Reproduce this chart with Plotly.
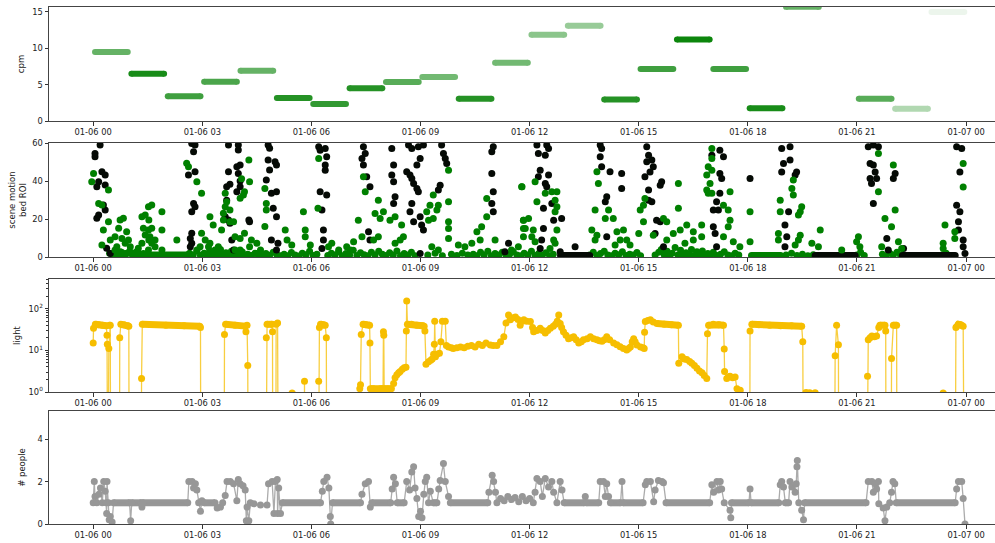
import pandas as pd
import plotly.graph_objects as go

BASE = pd.Timestamp("2020-01-06")

# ---------------- panel 1: cpm per hour ----------------
cpm_hours = list(range(24))
cpm_values = [9.5, 6.5, 3.4, 5.4, 6.9, 3.15, 2.35, 4.5, 5.35, 6.05, 3.05, 8.0,
              11.85, 13.1, 2.95, 7.15, 11.2, 7.15, 1.75, 15.7, None, 3.05, 1.7, 15.0]
cpm_alpha = [0.6, 0.9, 0.75, 0.7, 0.6, 0.85, 0.8, 0.85, 0.65, 0.55, 0.85, 0.55,
             0.45, 0.4, 0.85, 0.75, 0.95, 0.75, 0.9, 0.6, 0.0, 0.65, 0.3, 0.07]

# ---------------- panel 2: scene motion bed ROI ----------------
motion_black_h = [0.19, 0.05, 0.05, 0.24, 0.33, 0.15, 0.33, 0.10, 0.28, 0.33, 0.10, 0.15, 0.37, 0.47,
                  2.71, 2.8, 2.76, 2.62, 2.8, 2.76, 2.71, 2.8, 2.71, 2.67, 2.71, 2.67,
                  3.72, 3.99, 3.99, 3.95, 4.04, 3.72, 3.99, 4.04, 3.76, 3.67, 3.95, 4.04, 3.67, 3.63, 3.72, 3.76, 4.28, 4.3, 3.81, 3.86,
                  4.81, 4.85, 4.81, 5.0, 5.04, 4.85, 4.76, 5.04, 4.9, 4.95, 5.04, 4.9, 5.08, 5.04,
                  6.2, 6.24, 6.38, 6.42, 6.38, 6.38, 6.24, 6.42, 6.29, 6.33, 6.33, 6.29,
                  7.43, 7.48, 7.39, 7.43, 7.52, 7.61, 7.57, 7.61,
                  8.21, 8.26, 8.21, 8.26, 8.3, 8.26,
                  8.67, 8.76, 8.94, 9.08, 8.99, 8.9, 8.62, 8.71, 8.81, 8.76, 8.9, 8.94, 8.76, 8.71, 8.81, 8.99, 9.03, 9.08, 8.99,
                  9.58, 9.63, 9.68, 9.72, 9.54, 9.49,
                  11.0, 10.96, 10.96, 11.0, 10.96, 11.0, 11.42, 11.32,
                  12.2, 12.24, 12.47, 12.52, 12.43, 12.29, 12.24, 12.52, 12.43, 12.47, 12.61, 12.38, 12.66, 12.88, 12.38, 12.33, 12.29, 12.84, 13.25,
                  13.94, 13.98, 13.94, 13.98, 14.21, 14.53, 14.53, 14.12, 14.08, 14.12,
                  15.22, 15.27, 15.36, 15.22, 15.4, 15.17, 15.31, 15.63, 15.59, 15.27, 15.36, 15.27, 15.49, 15.59, 15.45, 15.68,
                  17.01, 17.23, 17.33, 17.23, 17.28, 17.23, 17.14, 17.19, 17.05, 17.05, 17.1, 18.06, 17.14,
                  18.93, 19.16, 19.16, 18.98, 18.93, 19.34, 19.3, 19.12, 19.02, 19.07, 19.02,
                  21.31, 21.45, 21.59, 21.36, 21.45, 21.5, 21.36, 21.54, 21.4, 21.45, 22.05, 22.0, 21.82, 21.86, 22.28,
                  23.74, 23.88, 23.83, 23.74, 23.83, 23.79, 23.79, 23.92, 23.92, 23.97]
motion_black_v = [58.9, 54.5, 52.8, 44.9, 43.1, 39.6, 37.9, 37.0, 27.4, 24.7, 20.4, 22.1, 4.6, 1.9,
                  59.8, 58.9, 55.4, 43.1, 44.9, 28.2, 23.8, 26.5, 12.5, 9.8, 7.2, 5.4,
                  58.9, 58.9, 56.3, 47.5, 48.4, 44.9, 44.0, 40.0, 38.3, 37.0, 34.3, 37.0, 29.9, 21.2, 19.5, 17.7, 19.5, 18.6, 8.9, 3.7,
                  58.9, 57.2, 51.0, 50.1, 48.4, 45.8, 40.5, 34.3, 33.5, 25.6, 21.2, 8.9, 7.2, 3.7,
                  58.0, 56.2, 57.1, 52.7, 48.4, 45.7, 34.3, 32.6, 24.7, 14.2, 8.9, 4.5,
                  58.0, 54.5, 51.9, 48.4, 42.2, 37.0, 13.3, 8.9,
                  57.1, 48.4, 43.1, 39.6, 31.7, 28.2,
                  58.9, 57.1, 58.0, 58.9, 51.9, 48.4, 44.9, 43.1, 38.7, 41.3, 36.1, 34.3, 28.2, 23.8, 18.6, 21.2, 16.8, 14.2, 1.9,
                  58.9, 54.5, 51.9, 49.2, 37.8, 35.2,
                  58.0, 55.4, 44.0, 34.3, 28.2, 23.8, 7.2, 2.8,
                  58.9, 54.5, 58.9, 57.1, 53.6, 45.7, 42.2, 43.1, 38.7, 37.0, 28.2, 25.6, 19.4, 20.3, 15.0, 8.9, 4.5, 2.8, 5.4,
                  58.9, 57.1, 52.7, 47.5, 44.9, 44.0, 36.1, 31.7, 29.1, 10.7,
                  58.0, 53.6, 51.0, 50.1, 47.5, 42.2, 44.8, 39.6, 37.8, 35.2, 29.1, 29.9, 19.4, 18.6, 12.4, 5.4,
                  53.6, 56.2, 52.7, 44.0, 41.3, 33.5, 29.1, 24.7, 24.7, 15.9, 12.4, 41.3, 5.4,
                  57.1, 58.0, 51.0, 49.2, 44.8, 44.8, 43.1, 23.8, 16.8, 10.7, 5.4,
                  58.0, 58.9, 58.0, 49.2, 48.4, 44.8, 41.3, 41.3, 38.7, 28.2, 44.0, 41.3, 9.8, 3.7, 4.5,
                  58.0, 57.1, 44.8, 27.3, 23.8, 18.6, 14.2, 8.9, 5.4, 1.9]

motion_green_h = [0.01, -0.04, 0.42, 0.15, 0.24, 0.42, 0.28, 0.24, 0.47, 0.60, 0.70, 0.74, 0.83, 0.92, 0.79, 0.97, 0.88, 1.02,
                  0.65, 0.60, 0.74, 0.88, 1.07, 1.20, 1.24, 1.34, 1.43, 1.52, 1.61, 1.53, 1.38, 1.52, 1.61, 1.43, 1.56, 1.53,
                  1.34, 1.61, 1.70, 1.52, 1.38, 1.89, 1.89, 1.89, 1.70, 2.30,
                  2.57, 2.62, 2.85, 2.98, 2.98, 3.08, 2.94, 2.85, 3.17, 3.21, 3.35, 3.44, 3.53, 3.21, 3.30, 3.53, 3.63, 3.67,
                  3.63, 3.58, 3.58, 3.76, 3.76, 3.9, 4.13, 4.16, 4.04, 4.3, 4.28, 4.08, 3.86, 4.04, 4.16, 4.35, 4.3, 4.5, 4.6,
                  3.9, 4.04, 4.48, 4.72, 4.76, 4.76, 4.72,
                  6.2, 6.18, 7.48, 7.43, 9.77, 9.77, 9.35, 9.26, 9.17, 9.22, 9.45, 9.49, 9.35, 9.77, 9.77, 9.77, 7.84, 7.98,
                  7.89, 7.75, 7.29, 8.16, 8.3, 8.48, 8.53, 8.44, 8.3, 7.84, 7.71, 7.39, 7.16, 6.97, 6.56, 6.47, 5.83, 5.83,
                  5.78, 5.28, 5.33, 5.46, 5.97, 10.82, 10.82, 10.55, 10.68, 10.41, 10.64, 11.05, 10.04, 10.22, 11.78, 11.83,
                  11.83, 11.69, 11.5, 9.31, 9.49, 6.75, 7.07,
                  11.79, 12.15, 12.2, 12.43, 12.61, 12.75, 12.7, 12.75, 12.7, 11.83, 11.97, 11.88, 12.1, 12.06, 11.83, 12.15,
                  12.66, 12.75, 12.56, 12.7, 13.85, 13.89, 13.8, 14.08, 14.17, 14.3, 13.71, 13.85, 13.8, 14.4, 14.58, 14.49,
                  14.67, 14.76, 14.35, 15.04, 15.13, 15.17, 15.0, 15.13, 15.4, 15.68, 15.77, 16.09, 16.09, 15.95, 16.14, 16.32,
                  16.5, 16.73, 16.5, 16.73, 16.27, 15.77, 17.01, 17.01, 16.91, 17.01, 16.87, 16.96, 16.91, 16.87, 17.01, 17.51,
                  17.33, 17.46, 17.51, 17.46, 17.33, 17.6, 18.06, 18.06, 17.78,
                  19.25, 19.21, 19.25, 18.89, 18.89, 19.48, 19.44, 19.39, 18.84, 18.84, 19.44, 19.39, 19.3, 19.99, 19.76, 19.94,
                  20.58, 21.04, 20.99, 21.08, 21.59, 21.59, 22.0, 22.05, 21.77, 21.95, 21.68, 22.14, 22.23, 23.42, 23.37, 23.37,
                  23.69, 23.69, 23.92, 23.92]
motion_green_v = [44, 39.6, 35.2, 28.2, 27.4, 18.6, 14.2, 6.3, 8.9, 10.7, 15.1, 19.5, 20.4, 13.3, 9.8, 8.9, 7.2, 5.4,
                  5.4, 3.7, 2.8, 1.9, 1.9, 2.8, 4.6, 21.2, 22.1, 26.5, 27.4, 19.5, 15.1, 14.2, 15.1, 11.6, 10.7, 8.9,
                  7.2, 7.2, 5.4, 3.7, 1.9, 3.7, 23.8, 14.2, 8.9, 8.9,
                  49.3, 47.5, 39.6, 33.5, 12.5, 8.9, 5.4, 3.7, 5.4, 7.2, 3.7, 5.4, 1.9, 21.2, 16.8, 14.2, 33.5, 29.1,
                  26.5, 23.0, 19.5, 24.7, 18.6, 10.7, 32.6, 34.3, 30.9, 39.6, 51.0, 41.2, 18.6, 9.8, 12.5, 8.9, 5.4, 7.2, 3.7,
                  3.7, 3.7, 1.9, 36.1, 28.2, 24.7, 16.0,
                  51.9, 25.6, 34.3, 42.2, 45.7, 29.1, 32.6, 27.3, 23.8, 19.4, 24.7, 27.3, 20.3, 18.6, 15.0, 9.8, 29.9, 23.8,
                  20.3, 22.9, 19.4, 19.4, 21.2, 16.8, 10.7, 8.9, 7.2, 10.7, 8.9, 10.7, 8.0, 5.4, 7.2, 5.4, 14.2, 10.7,
                  23.8, 14.2, 8.9, 6.3, 6.3, 30.8, 21.2, 13.3, 15.9, 7.2, 8.9, 8.9, 6.3, 5.4, 37.0, 19.4,
                  15.0, 5.4, 3.7, 5.4, 3.7, 3.7, 3.7,
                  37.0, 39.6, 29.1, 33.5, 34.3, 34.3, 29.9, 26.4, 23.8, 19.4, 20.3, 15.0, 14.2, 10.7, 10.7, 8.0,
                  8.9, 14.2, 4.5, 7.2, 44.9, 38.7, 24.7, 20.3, 24.7, 20.3, 14.2, 11.5, 8.9, 13.3, 14.2, 8.9,
                  8.9, 6.3, 6.3, 24.7, 27.3, 30.8, 12.4, 18.6, 11.5, 20.3, 18.6, 38.7, 25.6, 12.4, 14.2, 16.8,
                  13.3, 16.8, 8.9, 10.7, 7.2, 8.9, 57.1, 51.9, 47.5, 45.7, 43.1, 38.7, 33.5, 35.2, 33.5, 34.3,
                  27.3, 24.7, 19.4, 15.9, 10.7, 8.0, 23.8, 8.0, 5.4,
                  40.5, 36.1, 32.6, 29.9, 23.8, 26.4, 23.8, 22.1, 12.4, 8.9, 11.5, 8.9, 6.3, 14.2, 7.2, 5.4,
                  3.7, 10.7, 8.0, 5.4, 34.3, 54.5, 48.4, 24.7, 20.3, 15.9, 5.4, 8.0, 4.5, 16.8, 7.2, 4.5,
                  13.3, 9.8, 36.9, 49.2]

motion_low_h = [0.45, 0.55, 0.62, 0.7, 0.78, 0.85, 0.93, 1.0, 1.08, 1.15, 1.22, 1.3,
                2.65, 2.75, 2.85, 2.95,
                3.05, 3.12, 3.2, 3.28, 3.35, 3.42, 3.5, 3.58, 3.65, 3.72, 3.8, 3.88, 3.95, 4.02, 4.1, 4.18, 4.25, 4.35,
                4.45, 4.55, 4.65, 4.75, 4.85, 4.95, 5.05, 5.15,
                5.25, 5.35, 5.45, 5.55, 5.65, 5.75, 5.85, 5.95, 6.05, 6.15,
                6.45, 6.55, 6.65, 6.75, 6.85, 6.95, 7.05, 7.15, 7.25, 7.35, 7.45, 7.55, 7.65, 7.75, 7.85, 7.95, 8.05,
                8.15, 8.25, 8.35, 8.45, 8.55, 8.65, 8.75, 8.85,
                9.2, 9.4, 9.6, 9.85, 10.0, 10.15, 10.3,
                10.45, 10.55, 10.65, 10.75, 10.85, 10.95, 11.05, 11.15, 11.25, 11.35, 11.45, 11.55, 11.65, 11.75, 11.85,
                11.95, 12.05, 12.15, 12.25, 12.35, 12.45, 12.55, 12.65,
                13.65, 13.75, 13.85, 13.95, 14.05, 14.15, 14.25, 14.35, 14.45, 14.55, 14.65, 14.75, 14.85, 14.95, 15.05,
                15.45, 15.55, 15.62, 15.7, 15.78, 15.85, 15.92, 16.0, 16.08, 16.15, 16.22, 16.3, 16.38, 16.45, 16.52,
                16.6, 16.68, 16.75, 16.82, 16.9, 16.98, 17.05, 17.15, 17.25, 17.35, 17.45, 17.55, 17.65, 17.75,
                19.05, 19.2, 19.35, 19.5, 19.65, 19.8,
                21.0, 21.1, 21.2,
                21.7, 21.8, 21.9, 22.0, 22.1, 22.2,
                23.35, 23.45]
motion_low_v = [2, 0.8, 3.5, 1.2, 2.5, 0.6, 1.8, 3, 1, 2.2, 0.7, 1.5,
                2, 1, 3, 0.8,
                2, 1, 3.2, 0.6, 2.4, 1.2, 4, 0.8, 2.2, 1, 3, 0.5, 1.8, 1, 2.6, 0.7, 1.5, 0.8,
                2.0, 1, 0.6, 1.8, 0.9, 2.5, 1.2, 0.7,
                1.5, 0.7, 2.4, 1, 0.5, 2, 1.2, 3, 0.8, 1.5,
                0.8, 2, 1, 2.8, 0.6, 1.8, 1, 3.5, 0.8, 2.2, 1.2, 0.6, 2.5, 1, 3, 1.5, 0.8,
                2.2, 1, 3.2, 0.7, 1.8, 1, 2.5, 0.6,
                1, 2, 0.7, 1.5, 0.8, 2, 1,
                1.5, 0.7, 2.5, 1, 3, 0.6, 1.8, 1, 2.5, 0.8, 1.5, 2.8, 1, 0.6, 2,
                1, 3, 0.8, 1.8, 1, 2.2, 0.7, 1.5,
                1, 2.5, 0.8, 1.8, 3, 1, 0.6, 2, 1.2, 2.8, 0.8, 1.5, 1, 2.4, 0.7,
                1, 2.5, 4, 1.2, 3, 0.8, 2, 5, 1, 3.5, 0.7, 2.2, 1.2, 4, 0.8,
                2.8, 1, 3.2, 0.6, 1.8, 1, 2.5, 0.8, 1.5, 2.8, 1, 0.6, 2, 1,
                1, 2, 0.8, 1.5, 0.6, 1.2,
                1, 2.5, 0.8,
                1.5, 0.6, 2, 1, 2.5, 0.8,
                1, 2]

# continuous runs of near-zero readings (start hour, end hour, value)
motion_green_runs = [(1.3, 2.6, 1.0), (18.1, 18.9, 0.8)]
motion_black_runs = [(12.85, 13.65, 0.8), (19.85, 20.95, 0.8), (22.25, 23.7, 0.8)]

# ---------------- panel 3: light (0 = no light -> clipped below the log axis) ----------------
light_h = [0.0, 0.01, 0.06, 0.15, 0.25, 0.36, 0.38, 0.385, 0.39, 0.40, 0.43, 0.45, 0.47, 0.48,
           0.72, 0.73, 0.76, 0.85, 0.95, 0.98, 0.99,
           1.32, 1.33, 1.35, 2.0, 2.5, 2.93, 2.95, 2.96,
           3.60, 3.61, 3.64, 3.9, 4.18, 4.2, 4.23, 4.25, 4.26,
           4.75, 4.76, 4.78, 4.92, 4.93, 4.94, 5.02, 5.03, 5.07, 5.09,
           5.46, 5.47, 5.48, 5.8, 5.81, 5.82,
           6.19, 6.2, 6.22, 6.25, 6.32, 6.38, 6.41, 6.42,
           7.32, 7.33, 7.35, 7.37, 7.42, 7.5, 7.6, 7.61, 7.62, 7.7, 7.8, 7.9, 7.97, 7.98, 7.99, 8.0, 8.1, 8.2,
           8.26, 8.3, 8.35, 8.4, 8.44, 8.5, 8.55, 8.6, 8.61, 8.62, 8.64, 8.75, 8.9, 9.05, 9.1, 9.12, 9.15,
           9.22, 9.28, 9.32, 9.36, 9.38, 9.39, 9.41, 9.45, 9.52, 9.56, 9.6, 9.68, 9.71, 9.77, 9.85, 9.9, 10.0,
           10.1, 10.2, 10.3, 10.4, 10.5, 10.6, 10.7, 10.8, 10.92, 11.0, 11.1, 11.2, 11.29, 11.35, 11.42, 11.47,
           11.55, 11.61, 11.68, 11.74, 11.8, 11.84, 11.92, 12.02, 12.08, 12.11, 12.2, 12.29, 12.36, 12.43, 12.5,
           12.57, 12.65, 12.71, 12.76, 12.8, 12.84, 12.88, 12.93, 13.0, 13.07, 13.14, 13.21, 13.28, 13.35, 13.42,
           13.48, 13.58, 13.67, 13.76, 13.85, 13.92, 13.99, 14.05, 14.12, 14.2, 14.31, 14.4, 14.49, 14.58, 14.67,
           14.72, 14.77, 14.82, 14.86, 14.9, 14.95, 15.05, 15.12, 15.15, 15.16, 15.18, 15.25, 15.32, 15.4, 15.5,
           15.7, 15.9, 16.09, 16.1, 16.19, 16.25, 16.32, 16.4, 16.46, 16.53, 16.6, 16.67, 16.74, 16.8, 16.87,
           16.89, 16.92, 17.05, 17.2, 17.33, 17.35, 17.36, 17.42, 17.47, 17.51, 17.58, 17.65, 17.7, 17.79, 17.8,
           18.05, 18.06, 18.11, 18.3, 18.6, 18.9, 19.2, 19.48, 19.51, 19.52,
           19.53, 19.6, 19.7, 19.85, 19.9,
           20.38, 20.4, 20.44, 20.49, 20.5,
           21.27, 21.29, 21.31, 21.36, 21.41, 21.48, 21.54, 21.6, 21.63, 21.77, 21.79, 21.8,
           21.94, 21.95, 22.0, 22.09, 22.1,
           23.35, 23.37, 23.38, 23.7, 23.72, 23.79, 23.85, 23.92, 23.95]
light_v = [15, 34, 42, 41, 40, 39, 23, 0, 14, 0, 11, 40, 40, 0,
           0, 20, 42, 41, 39, 38, 0,
           0, 2.1, 42, 40, 39, 38, 35, 0,
           0, 24, 42, 40, 38, 28, 40, 4.3, 0,
           0, 20, 42, 42, 28, 0, 0, 42, 45, 0,
           0, 0.95, 0, 0, 1.8, 0,
           0, 1.8, 35, 42, 41, 40, 20, 0,
           0, 1.2, 1.5, 24, 42, 41, 40, 15, 1.2, 1.2, 1.15, 1.2, 1.2, 28, 23, 1.2, 1.2, 1.2,
           1.6, 2.2, 2.6, 2.9, 3.1, 3.5, 3.8, 3.9, 29, 152, 42, 42, 40, 39, 38, 29, 4.6,
           5.3, 5.8, 6.2, 8, 14, 50, 7, 8, 8.5, 16, 50, 50, 13, 12, 11.5, 11, 11.5,
           12, 11.5, 12.5, 13, 12, 14, 13, 15, 13.4, 13, 13, 16, 21, 45, 70, 54,
           60, 63, 55, 40, 50, 54, 50, 49, 35, 28, 30, 34, 30, 26, 30,
           34, 38, 42, 50, 70, 44, 35, 28, 23, 19, 20, 21, 18, 15, 16,
           18, 19, 21, 19, 18, 17, 16.5, 18, 21, 18, 15, 13.5, 12.2, 11, 10.2,
           11, 12, 16, 19, 16, 13.4, 12, 11.5, 11, 27, 49, 52, 54, 48, 44,
           42, 41, 40, 4.9, 7, 6.2, 6, 5.4, 4.9, 4.3, 3.7, 3.2, 2.9, 2.5, 2.1,
           25, 40, 42, 41, 40, 10.7, 3.1, 2.1, 2.3, 2.4, 2.2, 2.3, 1.2, 1.1, 0,
           0, 29, 42, 41, 40, 39, 39, 38, 16, 0,
           0, 0.97, 0.96, 0.96, 0,
           0, 7.4, 40, 13.5, 0,
           0, 2.4, 18, 20, 22, 21, 22, 35, 40, 40, 29, 0,
           0, 6.4, 40, 40, 0,
           0, 0.95, 0, 0, 35, 42, 41, 38, 0]
# stretches where readings are dense enough to form a solid band (start hour, end hour)
light_plateaus = [(0.06, 0.36), (0.76, 0.98), (1.35, 2.93), (3.64, 4.18), (4.78, 4.92), (6.25, 6.38),
                  (7.42, 7.6), (7.62, 7.97), (8.0, 8.2), (8.64, 9.1), (15.5, 16.09), (16.92, 17.33),
                  (18.11, 19.48), (21.63, 21.77), (22.0, 22.09), (23.72, 23.92)]

# ---------------- panel 4: number of people ----------------
people_h = [0.0, 0.03, 0.05, 0.1, 0.16, 0.2, 0.25, 0.29, 0.33, 0.36, 0.37, 0.38, 0.42, 0.44, 0.47, 0.52, 0.56,
            1.0, 1.03, 1.06, 1.32, 1.34, 1.36,
            2.6, 2.63, 2.72, 2.76, 2.81, 2.85, 2.9, 2.95, 2.99, 3.05,
            3.35, 3.41, 3.5, 3.56, 3.63, 3.68, 3.77, 3.86, 3.95, 3.99, 4.04, 4.12, 4.18, 4.21, 4.23, 4.28, 4.32,
            4.42, 4.6, 4.78, 4.82, 4.92, 4.97, 5.01, 5.06, 5.07, 5.1, 5.15, 5.2,
            6.25, 6.3, 6.34, 6.43, 6.48, 6.52, 6.53, 6.58,
            7.35, 7.39, 7.48, 7.57, 7.62, 7.66,
            8.18, 8.22, 8.26, 8.31, 8.36, 8.55, 8.62, 8.7, 8.76, 8.81, 8.85, 8.9, 8.95, 9.0, 9.04, 9.09, 9.13,
            9.17, 9.22, 9.27, 9.35,
            9.45, 9.5, 9.54, 9.63, 9.68, 9.77, 9.82,
            10.85, 10.88, 10.97, 11.01, 11.06, 11.1, 11.2, 11.3, 11.4, 11.5, 11.6, 11.7, 11.8, 11.9, 12.0, 12.1,
            12.15, 12.2, 12.29, 12.35, 12.43, 12.52, 12.61, 12.66, 12.75, 12.84, 12.89, 12.95,
            13.5, 13.53, 13.56, 13.9, 13.94, 14.03, 14.08, 14.12, 14.17, 14.22, 14.5, 14.54, 14.57,
            15.12, 15.18, 15.22, 15.32, 15.41, 15.45, 15.54, 15.64, 15.68, 15.75,
            16.95, 17.01, 17.06, 17.15, 17.19, 17.24, 17.28, 17.35, 17.51, 17.53, 17.55,
            18.03, 18.06, 18.09, 18.85, 18.89, 18.93, 18.98, 19.03, 19.12, 19.16, 19.21, 19.3, 19.33, 19.35, 19.36,
            19.4, 19.48, 19.53, 19.56,
            21.25, 21.31, 21.41, 21.45, 21.5, 21.54, 21.59, 21.6, 21.72, 21.77, 21.82, 21.9, 21.95, 21.99, 22.04, 22.08,
            23.7, 23.74, 23.79, 23.88, 23.92, 23.97]
people_v = [1.0, 2.0, 1.3, 1.0, 1.4, 1.7, 1.0, 2.0, 1.55, 1.0, 0.5, 2.0, 1.0, 0.2, 0.35, 0.1, 1.0,
            1.0, 0.15, 1.0, 1.0, 0.8, 1.0,
            1.0, 2.0, 2.0, 1.7, 1.9, 1.6, 1.0, 0.6, 1.1, 1.0,
            1.0, 0.75, 0.8, 1.0, 1.35, 2.0, 2.0, 1.9, 1.1, 2.1, 1.9, 1.8, 1.6, 0.15, 0.8, 0.15, 1.0,
            0.95, 0.9, 0.9, 1.9, 2.0, 0.5, 2.0, 2.1, 0.5, 1.7, 0.5, 1.0,
            1.0, 1.55, 2.0, 2.2, 1.7, 0.35, 0.0, 1.0,
            1.0, 1.4, 1.9, 2.0, 0.8, 1.0,
            1.0, 1.65, 2.2, 1.9, 1.0, 1.0, 2.0, 1.6, 2.45, 2.7, 1.7, 1.2, 0.35, 0.6, 0.3, 1.4, 2.0,
            2.2, 1.0, 1.55, 1.0,
            1.0, 1.65, 2.05, 2.85, 2.0, 1.3, 1.0,
            1.0, 1.5, 2.3, 2.0, 1.5, 1.0, 1.2, 1.1, 1.3, 1.15, 1.25, 1.05, 1.3, 1.1, 1.2, 1.0,
            1.5, 2.15, 2.0, 1.3, 2.15, 1.75, 2.0, 1.5, 1.0, 2.0, 1.6, 1.0,
            1.0, 1.3, 1.0, 1.0, 2.0, 2.0, 1.3, 1.9, 1.3, 1.0, 1.0, 2.0, 1.0,
            1.0, 1.85, 2.0, 2.0, 1.05, 1.6, 2.05, 2.0, 1.95, 1.0,
            1.0, 1.85, 1.5, 2.0, 1.6, 2.0, 1.65, 1.0, 0.65, 0.3, 1.0,
            1.0, 1.65, 1.0, 1.0, 1.85, 2.0, 1.75, 1.0, 1.0, 2.0, 1.75, 1.5, 1.9, 2.7, 3.0,
            1.0, 0.65, 0.2, 1.0,
            1.0, 2.0, 2.0, 1.5, 1.9, 1.65, 2.0, 0.95, 0.75, 0.15, 0.8, 1.0, 1.5, 2.0, 1.9, 1.0,
            1.0, 1.65, 2.0, 2.0, 1.2, 0.0]

tick_hours = [0, 3, 6, 9, 12, 15, 18, 21, 24]

# ---------------- helpers ----------------
def ts(h):
    if h is None:
        return None
    return (BASE + pd.Timedelta(hours=float(h))).strftime("%Y-%m-%d %H:%M:%S.%f")


def times(hs):
    return [ts(h) for h in hs]


FONT = "DejaVu Sans"
GREEN = "#008000"
GOLD = "#F6BE00"
GRAY = "#979797"
BLACK = "#050a05"
LOW = 1e-3  # stands in for zero on the log axis

fig = go.Figure()

# panel 1 bars
for h, v, a in zip(cpm_hours, cpm_values, cpm_alpha):
    if v is None:
        continue
    fig.add_trace(go.Scatter(x=times([h + 0.05, h + 0.95]), y=[v, v], mode="lines+markers",
                             line=dict(color=GREEN, width=6), marker=dict(size=6, color=GREEN),
                             opacity=a, xaxis="x", yaxis="y", hoverinfo="skip", showlegend=False))

# panel 2
def run_xy(runs):
    xs, ys = [], []
    for a, b, v in runs:
        xs += [ts(a), ts(b), None]
        ys += [v, v, None]
    return xs, ys

gx, gy = run_xy(motion_green_runs)
fig.add_trace(go.Scatter(x=gx, y=gy, mode="lines+markers", line=dict(color=GREEN, width=7),
                         marker=dict(size=7, color=GREEN), xaxis="x2", yaxis="y2",
                         hoverinfo="skip", showlegend=False))
fig.add_trace(go.Scatter(x=times(motion_low_h), y=motion_low_v, mode="markers",
                         marker=dict(size=7, color=GREEN), xaxis="x2", yaxis="y2", showlegend=False))
bx, by = run_xy(motion_black_runs)
fig.add_trace(go.Scatter(x=bx, y=by, mode="lines+markers", line=dict(color=BLACK, width=7),
                         marker=dict(size=7, color=BLACK), xaxis="x2", yaxis="y2",
                         hoverinfo="skip", showlegend=False))
fig.add_trace(go.Scatter(x=times(motion_black_h), y=motion_black_v, mode="markers",
                         marker=dict(size=7, color=BLACK), xaxis="x2", yaxis="y2", showlegend=False))
fig.add_trace(go.Scatter(x=times(motion_green_h), y=motion_green_v, mode="markers",
                         marker=dict(size=7, color=GREEN), xaxis="x2", yaxis="y2", showlegend=False))

# panel 3
light_y = [v if v > 0 else LOW for v in light_v]
band_x, band_y = [], []
for a, b in light_plateaus:
    for h, v in zip(light_h, light_y):
        if a <= h <= b:
            band_x.append(ts(h))
            band_y.append(v)
    band_x.append(None)
    band_y.append(None)
fig.add_trace(go.Scatter(x=band_x, y=band_y, mode="lines", line=dict(color=GOLD, width=7),
                         xaxis="x3", yaxis="y3", hoverinfo="skip", showlegend=False))
fig.add_trace(go.Scatter(x=times(light_h), y=light_y, mode="lines+markers",
                         line=dict(color="rgba(246,190,0,0.75)", width=1.3),
                         marker=dict(size=7, color=GOLD), xaxis="x3", yaxis="y3", showlegend=False))

# panel 4
px_, py_ = [], []
for i in range(len(people_h) - 1):
    if people_v[i] == 1.0 and people_v[i + 1] == 1.0 and people_h[i + 1] - people_h[i] > 0.06:
        px_ += [ts(people_h[i]), ts(people_h[i + 1]), None]
        py_ += [1.0, 1.0, None]
fig.add_trace(go.Scatter(x=px_, y=py_, mode="lines", line=dict(color=GRAY, width=7),
                         xaxis="x4", yaxis="y4", hoverinfo="skip", showlegend=False))
fig.add_trace(go.Scatter(x=times(people_h), y=people_v, mode="lines+markers",
                         line=dict(color="rgba(150,150,150,0.8)", width=1.3),
                         marker=dict(size=7, color=GRAY), xaxis="x4", yaxis="y4", showlegend=False))

# ---------------- layout ----------------
W, H = 995, 543
left = 49 / W
tickfont = dict(family=FONT, size=8.3, color="#222")
titlefont = dict(family=FONT, size=8.5, color="#222")

def xax(anchor):
    return dict(type="date", range=[ts(-1.215), ts(24.795)], tickmode="array",
                tickvals=times(tick_hours), tickformat="%m-%d %H",
                ticks="outside", ticklen=3.5, tickwidth=0.8, tickcolor="#333",
                showline=True, linecolor="#444", linewidth=1, mirror=True,
                showgrid=False, zeroline=False, tickfont=tickfont, automargin=False,
                domain=[left, 1.0], anchor=anchor)

def ydom(top_px, bot_px):
    return [1 - bot_px / H, 1 - top_px / H]

ycommon = dict(ticks="outside", ticklen=3.5, tickwidth=0.8, tickcolor="#333",
               showline=True, linecolor="#444", linewidth=1, mirror=False,
               showgrid=False, zeroline=False, tickfont=tickfont, automargin=False)

fig.update_layout(
    width=W, height=H, margin=dict(l=0, r=0, t=0, b=0, autoexpand=False),
    paper_bgcolor="white", plot_bgcolor="white", showlegend=False,
    xaxis=xax("y"),
    xaxis2=xax("y2"),
    xaxis3=xax("y3"),
    xaxis4=xax("y4"),
    yaxis=dict(ycommon, domain=ydom(7, 121), anchor="x", range=[0, 15.68],
               tickvals=[0, 5, 10, 15], title=dict(text="cpm", font=titlefont, standoff=6)),
    yaxis2=dict(ycommon, domain=ydom(143, 257), anchor="x2", range=[0, 60],
                tickvals=[0, 20, 40, 60],
                title=dict(text="scene motion<br>bed ROI", font=titlefont, standoff=4)),
    yaxis3=dict(ycommon, domain=ydom(279, 392), anchor="x3", type="log", range=[0, 2.71],
                tickvals=[1, 10, 100], ticktext=["10<sup>0</sup>", "10<sup>1</sup>", "10<sup>2</sup>"],
                minor=dict(ticks="outside", ticklen=2, tickwidth=0.6, tickcolor="#333",
                           tickvals=[2, 3, 4, 5, 6, 7, 8, 9, 20, 30, 40, 50, 60, 70, 80, 90,
                                     200, 300, 400, 500], showgrid=False),
                title=dict(text="light", font=titlefont, standoff=6)),
    yaxis4=dict(ycommon, domain=ydom(411, 524), anchor="x4", range=[0, 5.33],
                tickvals=[0, 2, 4], title=dict(text="# people", font=titlefont, standoff=10)),
)

fig.write_html("out.html",
               config={"displayModeBar": False},
               post_script="document.body.style.margin='0';document.body.style.overflow='hidden';")
